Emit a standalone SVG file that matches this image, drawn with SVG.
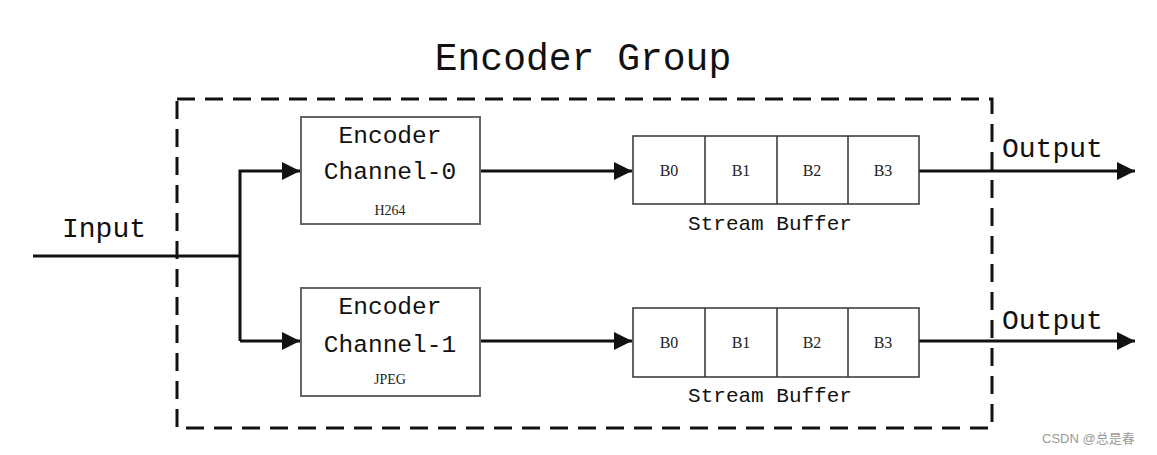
<svg xmlns="http://www.w3.org/2000/svg" width="1157" height="455" viewBox="0 0 1157 455">
<style>
.mono{font-family:"Liberation Mono","DejaVu Sans Mono",monospace;fill:#111}
.serif{font-family:"Liberation Serif","DejaVu Serif",serif;fill:#222}
.enc{fill:#fff;stroke:#666;stroke-width:2}
.buf{fill:#fff;stroke:#333;stroke-width:1.5}
.wire{fill:none;stroke:#111;stroke-width:3}
</style>
<defs>
<marker id="arr" markerWidth="6" markerHeight="6" refX="6" refY="3" orient="auto" markerUnits="strokeWidth">
<path d="M0,0 L6,3 L0,6 Z" fill="#111"/>
</marker>
</defs>
<rect width="1157" height="455" fill="#fff"/>
<text class="mono" x="583" y="70" font-size="38" text-anchor="middle">Encoder Group</text>
<rect id="group" x="177" y="99" width="815" height="329" fill="none" stroke="#111" stroke-width="3" stroke-dasharray="18,10"/>
<g id="connectors">
<path class="wire" d="M33,256 H240"/>
<path class="wire" d="M240,341 V171 H300" marker-end="url(#arr)"/>
<path class="wire" d="M240,341 H300" marker-end="url(#arr)"/>
<path class="wire" d="M480,171 H632" marker-end="url(#arr)"/>
<path class="wire" d="M480,341 H632" marker-end="url(#arr)"/>
<path class="wire" d="M919,171 H1135" marker-end="url(#arr)"/>
<path class="wire" d="M919,341 H1135" marker-end="url(#arr)"/>
</g>
<text class="mono" x="62" y="237" font-size="28">Input</text>
<text class="mono" x="1002" y="157" font-size="28">Output</text>
<text class="mono" x="1002" y="329" font-size="28">Output</text>
<g id="encoder0">
<rect class="enc" x="301" y="117" width="179" height="107"/>
<text class="mono" x="390" y="143" font-size="24.5" text-anchor="middle">Encoder</text>
<text class="mono" x="390" y="179" font-size="24.5" text-anchor="middle">Channel-0</text>
<text class="serif" x="390" y="215" font-size="14" text-anchor="middle">H264</text>
</g>
<g id="encoder1">
<rect class="enc" x="301" y="288" width="179" height="108"/>
<text class="mono" x="390" y="314" font-size="24.5" text-anchor="middle">Encoder</text>
<text class="mono" x="390" y="352" font-size="24.5" text-anchor="middle">Channel-1</text>
<text class="serif" x="390" y="384" font-size="14" text-anchor="middle">JPEG</text>
</g>
<g id="buffer0">
<rect class="buf" x="633" y="136" width="286" height="68"/>
<path class="buf" d="M705,136 V204 M777,136 V204 M848,136 V204"/>
<g class="serif" font-size="16" text-anchor="middle">
<text x="669" y="176">B0</text><text x="741" y="176">B1</text><text x="812" y="176">B2</text><text x="883" y="176">B3</text>
</g>
<text class="mono" x="770" y="230" font-size="21" text-anchor="middle">Stream Buffer</text>
</g>
<g id="buffer1">
<rect class="buf" x="633" y="308" width="286" height="69"/>
<path class="buf" d="M705,308 V377 M777,308 V377 M848,308 V377"/>
<g class="serif" font-size="16" text-anchor="middle">
<text x="669" y="348">B0</text><text x="741" y="348">B1</text><text x="812" y="348">B2</text><text x="883" y="348">B3</text>
</g>
<text class="mono" x="770" y="402" font-size="21" text-anchor="middle">Stream Buffer</text>
</g>
<text x="1042" y="443" font-size="13" fill="#999" font-family="'Liberation Sans','Noto Sans CJK SC',sans-serif">CSDN @总是春</text>
</svg>
